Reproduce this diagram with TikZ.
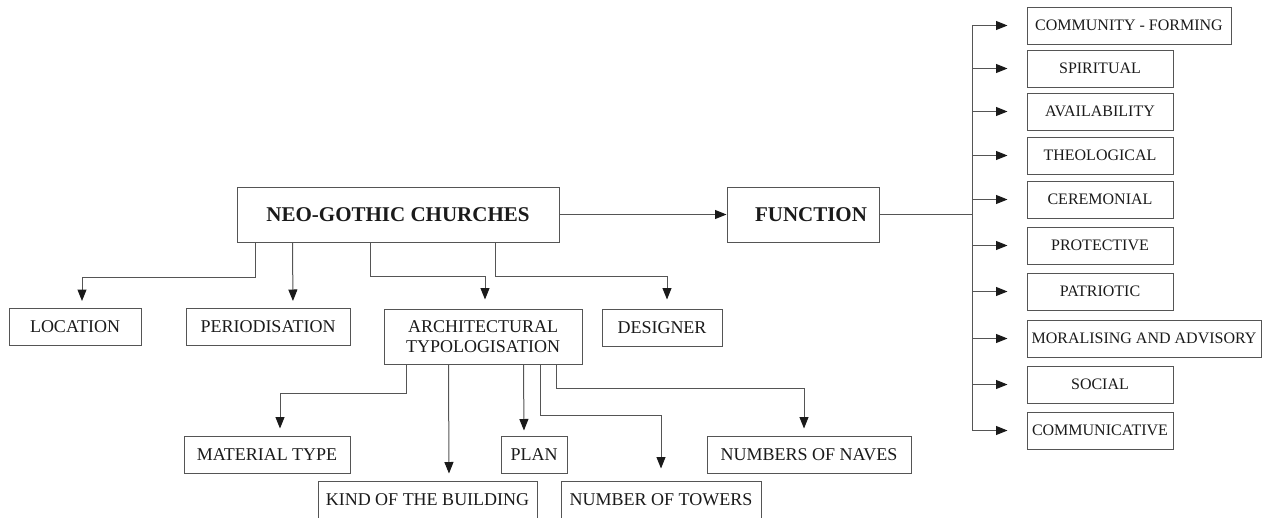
\documentclass[tikz,border=0pt]{standalone}
\usepackage{fontspec}
\setmainfont{Liberation Serif}
\usetikzlibrary{arrows.meta,calc}
\definecolor{linegray}{HTML}{555555}
\definecolor{textgray}{HTML}{1A1A1A}
\begin{document}
\begin{tikzpicture}[x = 1pt, y = -1pt,
        box/.style = {draw = linegray, line width = 1pt, text = textgray, inner sep = 1pt,
            minimum height = 37, align = center, font = \fontsize{18}{20}\selectfont},
        headbox/.style = {box, minimum height = 55, font = \fontsize{21}{24}\selectfont\bfseries},
        funcbox/.style = {box, minimum width = 146, font = \fontsize{16}{18}\selectfont},
        link/.style = {draw = linegray, line width = 1pt},
        arr/.style = {link, -{Triangle[length = 11.5pt, width = 9pt, color = textgray]}, shorten > = 7pt}]
            \useasboundingbox (0, 0) rectangle (1269, 517);
            \node [headbox, minimum width = 322] (neo) at (398, 214.5) {NEO-GOTHIC CHURCHES};
            \node [headbox, minimum width = 152] (func) at (803, 214.5) {\hspace*{16pt}FUNCTION};
            \node [box, minimum width = 132] (loc) at (75, 327) {LOCATION};
            \node [box, minimum width = 164] (period) at (268, 327) {PERIODISATION};
            \node [box, minimum width = 198, minimum height = 55] (arch) at (483, 336.5) {ARCHITECTURAL\\TYPOLOGISATION};
            \node [box, minimum width = 120] (designer) at (662, 327.5) {DESIGNER};
            \node [box, minimum width = 166] (material) at (267, 454.5) {MATERIAL TYPE};
            \node [box, minimum width = 219] (kind) at (427.5, 499.5) {KIND OF THE BUILDING};
            \node [box, minimum width = 66] (plan) at (534, 454.5) {PLAN};
            \node [box, minimum width = 200] (towers) at (661, 499.5) {NUMBER OF TOWERS};
            \node [box, minimum width = 204] (naves) at (809, 454.5) {NUMBERS OF NAVES};
            \node [funcbox, minimum width = 204] (fcomm) at (1129, 25.5) {COMMUNITY - FORMING};
            \node [funcbox] (fspir) at (1100, 68.5) {SPIRITUAL};
            \node [funcbox] (favail) at (1100, 111.5) {AVAILABILITY};
            \node [funcbox] (ftheo) at (1100, 155.5) {THEOLOGICAL};
            \node [funcbox] (fcere) at (1100, 199.5) {CEREMONIAL};
            \node [funcbox] (fprot) at (1100, 245.5) {PROTECTIVE};
            \node [funcbox] (fpatr) at (1100, 291.5) {PATRIOTIC};
            \node [funcbox, minimum width = 234] (fmoral) at (1144, 338.5) {MORALISING AND ADVISORY};
            \node [funcbox] (fsocial) at (1100, 384.5) {SOCIAL};
            \node [funcbox] (fcommun) at (1100, 430.5) {COMMUNICATIVE};
            \coordinate (trunk) at (972, 214.5);
            \draw [arr, shorten > = 0pt] (neo.east) -- (func.west);
            \draw [link] (func.east) -- (trunk);
            \draw [link] (trunk |- fcomm.west) -- (trunk |- fcommun.west);
            \draw [arr, shorten > = 19pt] (trunk |- fcomm.west) -- (fcomm.west);
            \draw [arr, shorten > = 19pt] (trunk |- fspir.west) -- (fspir.west);
            \draw [arr, shorten > = 19pt] (trunk |- favail.west) -- (favail.west);
            \draw [arr, shorten > = 19pt] (trunk |- ftheo.west) -- (ftheo.west);
            \draw [arr, shorten > = 19pt] (trunk |- fcere.west) -- (fcere.west);
            \draw [arr, shorten > = 19pt] (trunk |- fprot.west) -- (fprot.west);
            \draw [arr, shorten > = 19pt] (trunk |- fpatr.west) -- (fpatr.west);
            \draw [arr, shorten > = 19pt] (trunk |- fmoral.west) -- (fmoral.west);
            \draw [arr, shorten > = 19pt] (trunk |- fsocial.west) -- (fsocial.west);
            \draw [arr, shorten > = 19pt] (trunk |- fcommun.west) -- (fcommun.west);
            \draw [arr] ($(neo.south west) + (19, 0)$) |- ($(loc.north) + (7, -31)$) -- ($(loc.north) + (7, 0)$);
            \draw [arr] ($(neo.south west) + (56, 0)$) -- ($(period.north) + (25, 0)$);
            \draw [arr, shorten > = 9pt] ($(neo.south west) + (134, 0)$) |- ($(arch.north) + (2, -32)$) -- ($(arch.north) + (2, 0)$);
            \draw [arr, shorten > = 9pt] ($(neo.south west) + (259, 0)$) |- ($(designer.north) + (5, -32)$) -- ($(designer.north) + (5, 0)$);
            \draw [arr] ($(arch.south west) + (23, 0)$) |- ($(material.north) + (13, -42)$) -- ($(material.north) + (13, 0)$);
            \draw [arr] ($(arch.south west) + (65, 0)$) -- ($(kind.north) + (21.5, 0)$);
            \draw [arr, shorten > = 5pt] ($(arch.south west) + (140, 0)$) -- ($(plan.north) + (-10, 0)$);
            \draw [arr, shorten > = 12pt] ($(arch.south west) + (157, 0)$) |- ($(towers.north) + (0, -65)$) -- (towers.north);
            \draw [arr] ($(arch.south west) + (173, 0)$) |- ($(naves.north) + (-5, -47)$) -- ($(naves.north) + (-5, 0)$);
        \end{tikzpicture}
\end{document}
